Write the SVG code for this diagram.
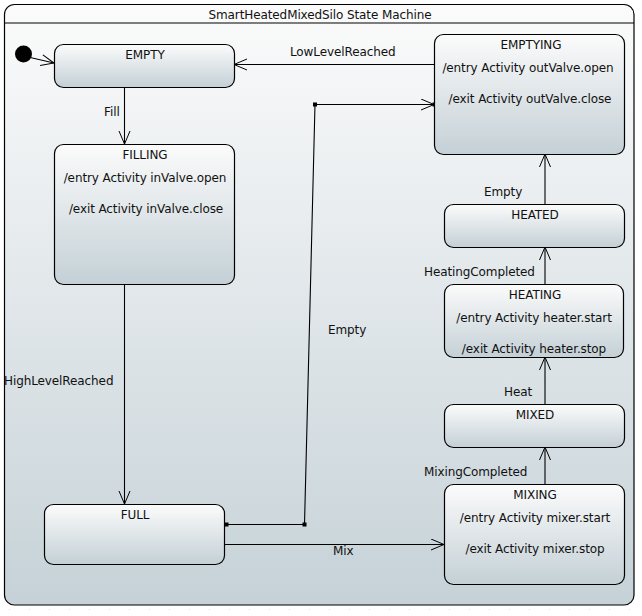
<svg xmlns="http://www.w3.org/2000/svg" width="642" height="616" viewBox="0 0 642 616">
<defs>
<linearGradient id="gFrame" x1="0" y1="0" x2="0" y2="1">
<stop offset="0" stop-color="#fbfbfb"/>
<stop offset="1" stop-color="#c6d2d8"/>
</linearGradient>
<linearGradient id="gNode" x1="0" y1="0" x2="0" y2="1">
<stop offset="0" stop-color="#fbfbfb"/>
<stop offset="1" stop-color="#c4d0d6"/>
</linearGradient>
<marker id="arr" markerUnits="userSpaceOnUse" markerWidth="16" markerHeight="14" refX="13" refY="6" orient="auto">
<path d="M0,0.5 L13,6 L0,11.5" fill="none" stroke="#000" stroke-width="1"/>
</marker>
<pattern id="dots" width="20" height="20" patternUnits="userSpaceOnUse">
<rect x="9" y="9" width="1" height="1" fill="#e2e2e2"/>
</pattern>
</defs>
<style>
text{font-family:"DejaVu Sans","Liberation Sans",sans-serif;font-size:12px;letter-spacing:-0.1px;fill:#111}
.c{text-anchor:middle}
.node{fill:url(#gNode);stroke:#000;stroke-width:1.2}
.ln{fill:none;stroke:#000;stroke-width:1.1}
.sq{fill:#000}
</style>
<rect width="642" height="616" fill="#fff"/>
<rect width="642" height="616" fill="url(#dots)"/>
<g id="frame">
<rect x="4.5" y="4.5" width="629.5" height="600.5" rx="10" fill="url(#gFrame)" stroke="#000" stroke-width="1.2"/>
<line x1="4.5" y1="23" x2="634" y2="23" stroke="#000" stroke-width="1.2"/>
<text class="c" x="320" y="19">SmartHeatedMixedSilo State Machine</text>
</g>
<g id="connectors">
<line class="ln" x1="28" y1="57" x2="54" y2="63" marker-end="url(#arr)"/>
<line class="ln" x1="434" y1="64.5" x2="234" y2="64.5" marker-end="url(#arr)"/>
<text x="290" y="56">LowLevelReached</text>
<line class="ln" x1="124.5" y1="87" x2="124.5" y2="144" marker-end="url(#arr)"/>
<text x="104" y="116">Fill</text>
<line class="ln" x1="124.5" y1="284" x2="124.5" y2="504" marker-end="url(#arr)"/>
<text x="4" y="385">HighLevelReached</text>
<line class="ln" x1="224" y1="544.5" x2="444" y2="544.5" marker-end="url(#arr)"/>
<text x="333" y="555">Mix</text>
<polyline class="ln" points="224,524.5 304.5,524.5 315,104.5 434,104.5" marker-end="url(#arr)"/>
<rect class="sq" x="224.5" y="522.5" width="4" height="4"/>
<rect class="sq" x="302.5" y="522.5" width="4" height="4"/>
<rect class="sq" x="313" y="102.5" width="4" height="4"/>
<rect class="sq" x="432.5" y="102.5" width="4" height="4"/>
<text x="328" y="334">Empty</text>
<line class="ln" x1="545" y1="484" x2="545" y2="447" marker-end="url(#arr)"/>
<text x="424" y="476">MixingCompleted</text>
<line class="ln" x1="545" y1="404" x2="545" y2="357" marker-end="url(#arr)"/>
<text x="504" y="396">Heat</text>
<line class="ln" x1="545" y1="284" x2="545" y2="247" marker-end="url(#arr)"/>
<text x="424" y="276">HeatingCompleted</text>
<line class="ln" x1="545" y1="204" x2="545" y2="154" marker-end="url(#arr)"/>
<text x="484" y="196">Empty</text>
</g>
<g id="initial">
<circle cx="23.5" cy="54" r="8.5" fill="#000"/>
</g>
<g id="EMPTY">
<rect class="node" x="54.5" y="44.5" width="180" height="43" rx="9"/>
<text class="c" x="145" y="59">EMPTY</text>
</g>
<g id="FILLING">
<rect class="node" x="54.5" y="144.5" width="180" height="140" rx="9"/>
<text class="c" x="145" y="159">FILLING</text>
<text class="c" x="145" y="182">/entry Activity inValve.open</text>
<text class="c" x="146" y="213">/exit Activity inValve.close</text>
</g>
<g id="FULL">
<rect class="node" x="44.5" y="504.5" width="180" height="60" rx="9"/>
<text class="c" x="135" y="519">FULL</text>
</g>
<g id="EMPTYING">
<rect class="node" x="434.5" y="34.5" width="190" height="120" rx="9"/>
<text class="c" x="531" y="49">EMPTYING</text>
<text class="c" x="528" y="72">/entry Activity outValve.open</text>
<text class="c" x="530" y="103">/exit Activity outValve.close</text>
</g>
<g id="HEATED">
<rect class="node" x="444.5" y="204.5" width="180" height="43" rx="9"/>
<text class="c" x="535" y="219">HEATED</text>
</g>
<g id="HEATING">
<rect class="node" x="444.5" y="284.5" width="179" height="73" rx="9"/>
<text class="c" x="535" y="299">HEATING</text>
<text class="c" x="534" y="322">/entry Activity heater.start</text>
<text class="c" x="534" y="353">/exit Activity heater.stop</text>
</g>
<g id="MIXED">
<rect class="node" x="444.5" y="404.5" width="180" height="43" rx="9"/>
<text class="c" x="535" y="419">MIXED</text>
</g>
<g id="MIXING">
<rect class="node" x="444.5" y="484.5" width="180" height="100" rx="9"/>
<text class="c" x="535" y="499">MIXING</text>
<text class="c" x="535" y="522">/entry Activity mixer.start</text>
<text class="c" x="535" y="553">/exit Activity mixer.stop</text>
</g>
</svg>
